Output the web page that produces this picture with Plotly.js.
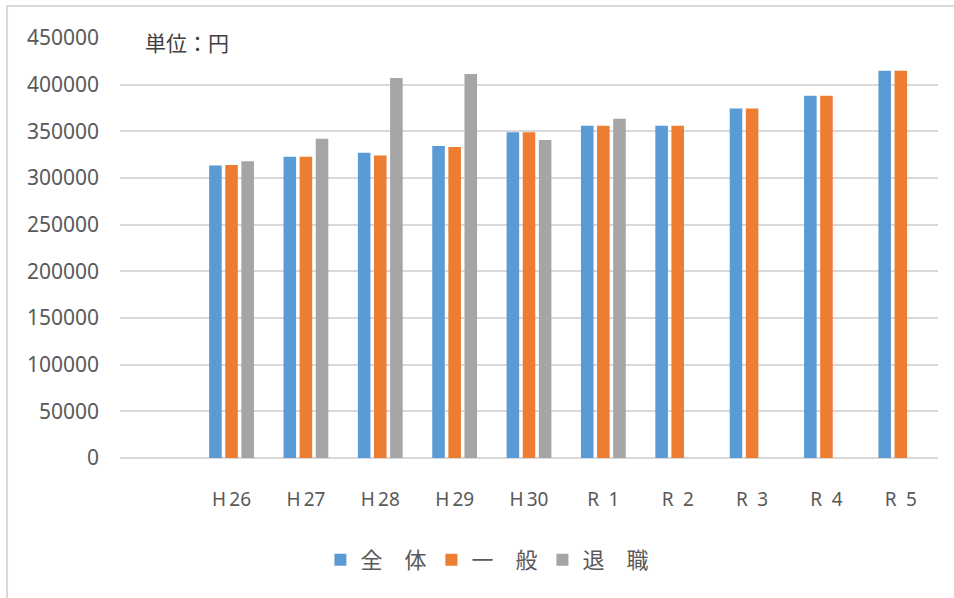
<!DOCTYPE html>
<html>
<head>
<meta charset="utf-8">
<script src="https://cdn.plot.ly/plotly-3.0.1.min.js"></script>
<style>html,body{margin:0;padding:0;background:#fff;}#chart{width:954px;height:598px;}</style>
</head>
<body>
<div id="chart"></div>
<script>
// Categories (fiscal years)
var categories = ["H\u200926", "H\u200927", "H\u200928", "H\u200929", "H\u200930", "R\u20021", "R\u20022", "R\u20023", "R\u20024", "R\u20025"];
// Series values (円)
var zentai = [313400, 322700, 327000, 334200, 349000, 356100, 356000, 374500, 388200, 414800];
var ippan  = [314000, 322700, 324200, 333200, 349000, 356000, 356000, 374500, 388200, 414800];
var taishoku = [318000, 342100, 407200, 411500, 340700, 363400, null, null, null, null];
var seriesNames = ["全\u3000体", "一\u3000般", "退\u3000職"];
var unitLabel = "\u3000単位：円";

var colors = ["#5b9bd5", "#ed7d31", "#a5a5a5"];
var seriesData = [zentai, ippan, taishoku];

var traces = seriesData.map(function (vals, i) {
  return {
    type: "bar",
    name: seriesNames[i],
    x: categories,
    y: vals,
    marker: { color: colors[i] },
    hoverinfo: "x+y+name"
  };
});

var layout = {
  width: 954,
  height: 598,
  margin: { l: 120, r: 16, t: 38, b: 140 },
  paper_bgcolor: "#ffffff",
  plot_bgcolor: "#ffffff",
  barmode: "group",
  bargap: 0.35,
  bargroupgap: 0.22,
  showlegend: true,
  legend: {
    orientation: "h",
    x: 0.245,
    xanchor: "left",
    y: -0.243,
    yanchor: "middle",
    font: { family: "Noto Sans CJK JP, sans-serif", size: 22, color: "#595959" },
    traceorder: "normal",
    itemwidth: 30
  },
  xaxis: {
    type: "category",
    range: [-1.5, 9.5],
    showgrid: false,
    showline: false,
    zeroline: false,
    ticks: "",
    tickfont: { family: "Noto Sans, sans-serif", size: 19, color: "#595959" },
    ticklabelstandoff: 28
  },
  yaxis: {
    range: [0, 450000],
    dtick: 50000,
    tick0: 0,
    showgrid: true,
    gridcolor: "#d9d9d9",
    gridwidth: 2,
    zeroline: true,
    zerolinecolor: "#d9d9d9",
    zerolinewidth: 2,
    showline: false,
    ticks: "",
    tickformat: "d",
    tickfont: { family: "Noto Sans, sans-serif", size: 21, color: "#595959" },
    ticklabelstandoff: 20
  },
  annotations: [{
    xref: "paper", yref: "paper",
    x: 0.0025, xanchor: "left",
    y: 0.99, yanchor: "middle",
    text: unitLabel,
    showarrow: false,
    align: "left",
    width: 182,
    bgcolor: "#ffffff",
    font: { family: "Noto Sans CJK JP, sans-serif", size: 21, color: "#404040" }
  }],
  shapes: [{
    type: "rect",
    xref: "paper", yref: "paper",
    x0: -0.1381, x1: 1.05,
    y0: -0.6, y1: 1.0762,
    line: { color: "#d9d9d9", width: 2 },
    fillcolor: "rgba(0,0,0,0)",
    layer: "above"
  }]
};

Plotly.newPlot("chart", traces, layout, { displayModeBar: false, staticPlot: true });
</script>
</body>
</html>
